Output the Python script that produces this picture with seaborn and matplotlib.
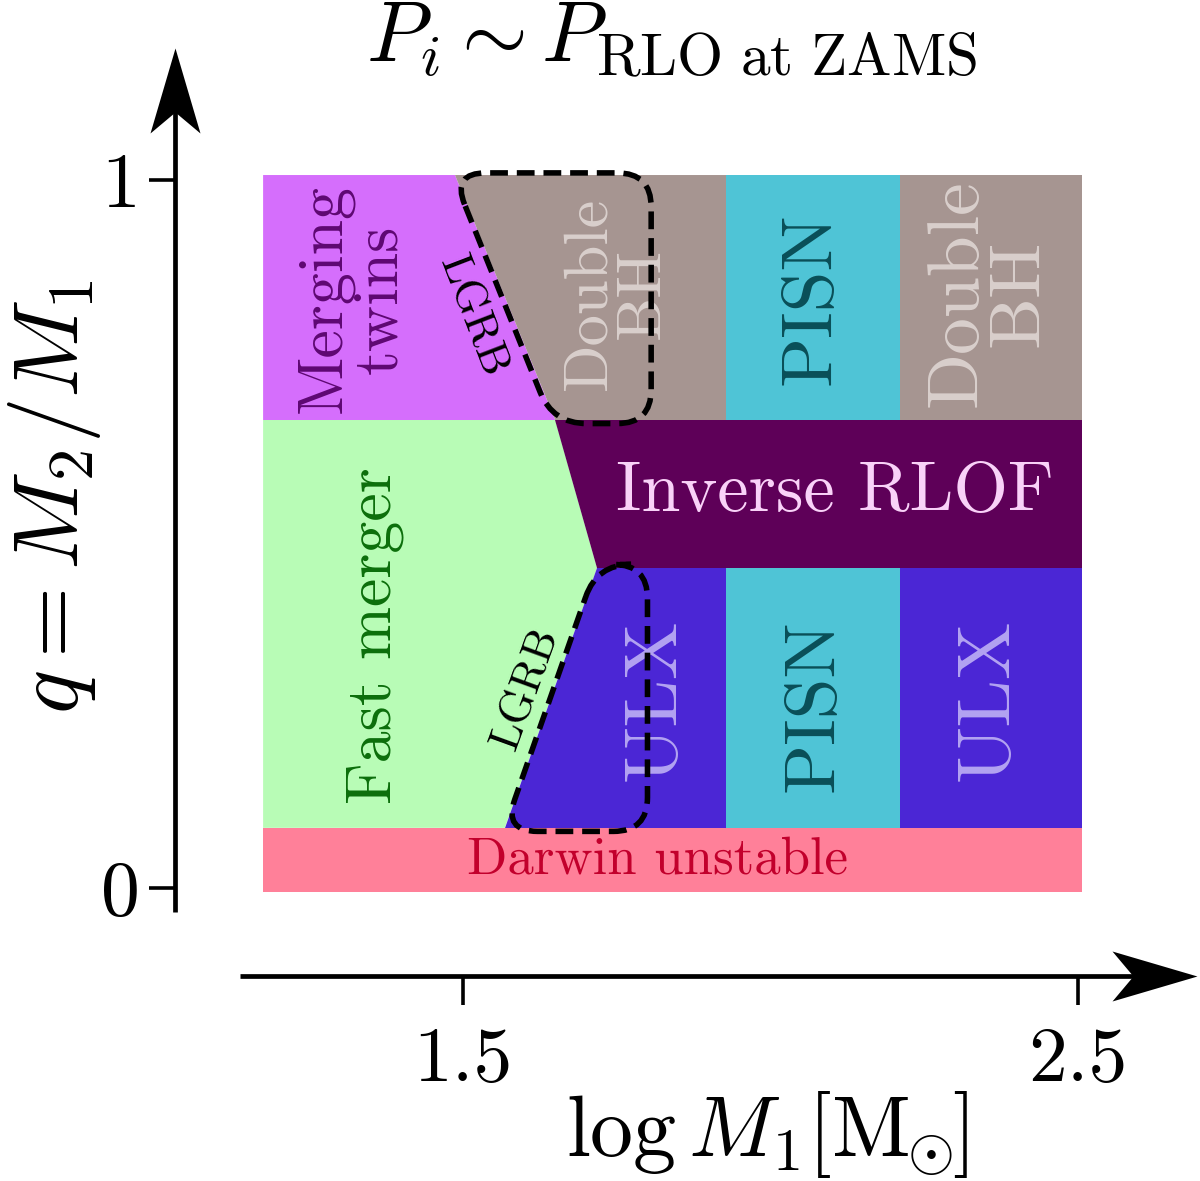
import numpy as np
import matplotlib
matplotlib.use("Agg")
import matplotlib.pyplot as plt
import seaborn as sns
from matplotlib.path import Path
from matplotlib.patches import PathPatch

sns.set_theme(style="white")
plt.rcParams["font.family"] = ["cmr10", "DejaVu Serif"]
plt.rcParams["mathtext.fontset"] = "cm"
plt.rcParams["axes.unicode_minus"] = False
plt.rcParams["axes.formatter.use_mathtext"] = True
plt.rcParams["text.color"] = "black"

# --- region boundaries (log M1 on x, q = M2/M1 on y) ---
x_lo, x_hi = 1.175, 2.507
q_lo, q_hi = -0.006, 1.007
q_darwin = 0.085
q_ulx = 0.452
q_inv = 0.661
x_col1, x_col2 = 1.928, 2.211
# slanted edge between the mergers and the rest
edge_top, edge_inv, edge_ulx, edge_bot = 1.487, 1.650, 1.718, 1.568

region_names = ["Darwin", "Fast merger", "Merging twins", "Double BH 1", "PISN 1",
                "Double BH 2", "Inverse RLOF", "ULX 1", "PISN 2", "ULX 2"]
region_x = [
    [x_lo, x_hi, x_hi, x_lo],
    [x_lo, edge_bot, edge_ulx, edge_inv, x_lo],
    [x_lo, edge_inv, edge_top, x_lo],
    [edge_top, edge_inv, x_col1, x_col1],
    [x_col1, x_col2, x_col2, x_col1],
    [x_col2, x_hi, x_hi, x_col2],
    [edge_inv, x_hi, x_hi, edge_ulx],
    [edge_bot, x_col1, x_col1, edge_ulx],
    [x_col1, x_col2, x_col2, x_col1],
    [x_col2, x_hi, x_hi, x_col2],
]
region_q = [
    [q_lo, q_lo, q_darwin, q_darwin],
    [q_darwin, q_darwin, q_ulx, q_inv, q_inv],
    [q_inv, q_inv, q_hi, q_hi],
    [q_hi, q_inv, q_inv, q_hi],
    [q_inv, q_inv, q_hi, q_hi],
    [q_inv, q_inv, q_hi, q_hi],
    [q_inv, q_inv, q_ulx, q_ulx],
    [q_darwin, q_darwin, q_ulx, q_ulx],
    [q_darwin, q_darwin, q_ulx, q_ulx],
    [q_darwin, q_darwin, q_ulx, q_ulx],
]
region_colors = ["#ff8099", "#b8fcb6", "#d56efc", "#a69591", "#4fc4d6",
                 "#a69591", "#5e0058", "#4b26d5", "#4fc4d6", "#4b26d5"]

# labels inside the regions
label_text = ["Darwin unstable", "Fast merger", "Merging\ntwins", "Double\nBH", "PISN",
              "Double\nBH", "Inverse RLOF", "ULX", "PISN", "ULX"]
label_x = [1.817, 1.357, 1.320, 1.750, 2.068, 2.355, 2.105, 1.815, 2.072, 2.357]
label_q = [0.040, 0.357, 0.832, 0.840, 0.833, 0.840, 0.558, 0.266, 0.258, 0.266]
label_rot = [0, 90, 90, 90, 90, 90, 0, 90, 90, 90]
label_size = [38, 46, 46, 45, 53, 53, 50.5, 55, 53, 55]
label_color = ["#c2002c", "#0b6e0b", "#5e0872", "#d9cfcc", "#0a4f58",
               "#d9cfcc", "#f9d2f8", "#b3a3f2", "#0a4f58", "#b3a3f2"]

# dashed LGRB zones
lgrb_x = [[edge_top - 0.005, 1.806, 1.806, edge_inv - 0.004],
          [edge_ulx, 1.800, 1.800, edge_bot - 0.002]]
lgrb_q = [[1.010, 1.010, 0.656, 0.656],
          [0.457, 0.457, 0.080, 0.080]]
lgrb_lab_x = [1.517, 1.602]
lgrb_lab_q = [0.808, 0.282]
lgrb_rot = [-69, 70]

xticks = [1.5, 2.5]
xtick_labels = ["1.5", "2.5"]
yticks = [0, 1]
ytick_labels = ["0", "1"]

W, H = 1200, 1181
fig = plt.figure(figsize=(W / 100, H / 100), dpi=100)
ax = fig.add_axes([0, 0, 1, 1])
xmin, xmax = 0.7472, 2.6984
ymin, ymax = -0.4138, 1.2542
ax.set_xlim(xmin, xmax)
ax.set_ylim(ymin, ymax)
sx = W / (xmax - xmin)
sy = H / (ymax - ymin)

for xs, qs, c in zip(region_x, region_q, region_colors):
    ax.fill(xs, qs, color=c, lw=0, zorder=1)

for t, x, q, r, s, c in zip(label_text, label_x, label_q, label_rot, label_size, label_color):
    ax.text(x, q, t, rotation=r, fontsize=s, color=c, ha="center", va="center",
            linespacing=0.95, rotation_mode="anchor", zorder=3)


def rounded(xs, qs, r=34):
    # polygon with rounded corners, radius in pixels
    p = np.column_stack([np.array(xs) * sx, np.array(qs) * sy])
    n = len(p)
    verts, codes = [], []
    for i in range(n):
        a, b, c = p[i - 1], p[i], p[(i + 1) % n]
        u1 = (b - a) / np.hypot(*(b - a))
        u2 = (c - b) / np.hypot(*(c - b))
        verts += [b - r * u1, b, b + r * u2]
        codes += [Path.MOVETO if i == 0 else Path.LINETO, Path.CURVE3, Path.CURVE3]
    verts.append(verts[0])
    codes.append(Path.LINETO)
    v = np.array(verts)
    v[:, 0] /= sx
    v[:, 1] /= sy
    return Path(v, codes)


for xs, qs in zip(lgrb_x, lgrb_q):
    ax.add_patch(PathPatch(rounded(xs, qs), fill=False, ec="black", lw=4.0,
                           ls=(0, (3.2, 1.6)), zorder=4))
for x, q, r in zip(lgrb_lab_x, lgrb_lab_q, lgrb_rot):
    ax.text(x, q, "LGRB", rotation=r, fontsize=32, color="black",
            ha="center", va="center", rotation_mode="anchor", zorder=5)

# axes drawn as arrows
x_axis_q = -0.1236
y_axis_x = 1.0317
ax.plot([1.1374, 2.66], [x_axis_q, x_axis_q], color="black", lw=3.4, solid_capstyle="butt")
ax.plot([y_axis_x, y_axis_x], [-0.0339, 1.15], color="black", lw=3.4, solid_capstyle="butt")
head_r = Path([(0, 0), (-85, 25), (-64, 0), (-85, -25), (0, 0)],
              [Path.MOVETO, Path.LINETO, Path.LINETO, Path.LINETO, Path.CLOSEPOLY])
head_u = Path([(0, 0), (25, -85), (0, -64), (-25, -85), (0, 0)],
              [Path.MOVETO, Path.LINETO, Path.LINETO, Path.LINETO, Path.CLOSEPOLY])
ax.plot([2.6984 - 3 / sx], [x_axis_q], marker=head_r, ms=170 * 0.72, color="black", mew=0)
ax.plot([y_axis_x], [ymax - 48 / sy], marker=head_u, ms=170 * 0.72, color="black", mew=0)

for side in ["top", "right", "bottom", "left"]:
    ax.spines[side].set_visible(False)
ax.spines["bottom"].set_position(("data", x_axis_q))
ax.spines["left"].set_position(("data", y_axis_x))
ax.set_xticks(xticks, xtick_labels)
ax.set_yticks(yticks, ytick_labels)
ax.tick_params(axis="x", bottom=True, direction="out", length=21, width=2.6,
               color="black", labelcolor="black", labelsize=56, pad=16)
ax.tick_params(axis="y", left=True, direction="out", length=19, width=2.6,
               color="black", labelcolor="black", labelsize=56, pad=6)
ax.grid(False)

fig.text(672 / W, 1 - 40 / H, r"$P_i \sim P_{\mathrm{RLO\ at\ ZAMS}}$", fontsize=61,
         ha="center", va="center")
fig.text(767 / W, 1 - 1135 / H, r"$\log M_1 [\mathrm{M}_{\!\!\odot\!\!}]$", fontsize=62,
         ha="center", va="center")
fig.text(55 / W, 1 - 497 / H, r"$q = M_2/M_1$", fontsize=66, rotation=90,
         ha="center", va="center")

fig.savefig("out.png", dpi=100, facecolor="white")
